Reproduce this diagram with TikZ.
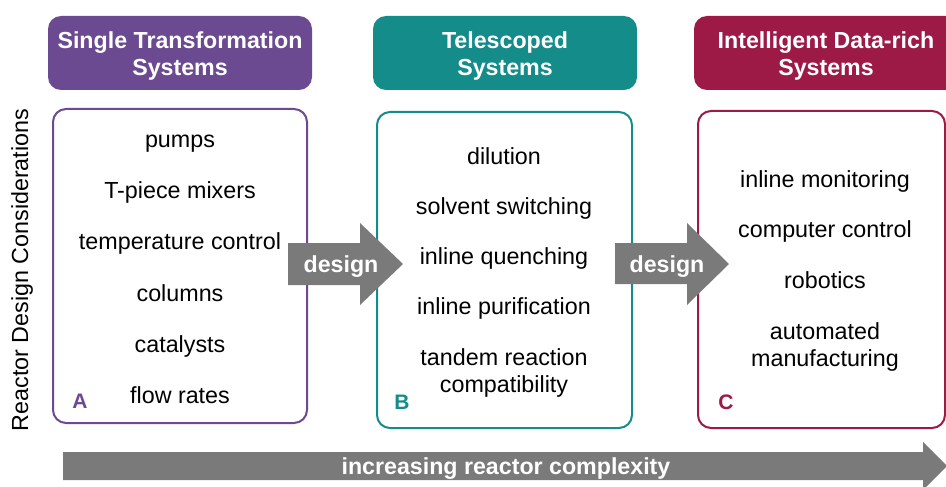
\documentclass[tikz,border=0pt]{standalone}
\usepackage{fontspec}
\setmainfont{Liberation Sans}
\definecolor{cpurple}{HTML}{6B4A91}
\definecolor{cteal}{HTML}{148C8A}
\definecolor{ccrim}{HTML}{9C1A45}
\definecolor{cgray}{HTML}{7A7A7A}
\begin{document}
\begin{tikzpicture}[x=1pt,y=-1pt,
  header/.style={fill=#1, rounded corners=13pt, text=white, align=center,
    font=\fontsize{23.2}{27}\selectfont\bfseries, inner sep=0pt,
    minimum width=264pt, minimum height=74pt},
  panel/.style={draw=#1, line width=2pt, rounded corners=13pt, inner sep=0pt},
  item/.style={font=\fontsize{23.3}{27}\selectfont, align=center, inner sep=0pt},
  single/.style={item, text height=16.5pt, text depth=4.8pt},
  letter/.style={text=#1, font=\fontsize{21}{25}\selectfont\bfseries, inner sep=0pt},
  blockarrow/.style={fill=cgray},
  arrowlabel/.style={text=white, font=\fontsize{23.2}{27}\selectfont\bfseries, inner sep=0pt}
]
\useasboundingbox (0,0) rectangle (946,487);
\clip (0,0) rectangle (946,487);

% headers
\node[header=cpurple] (hA) at (180,53) {};
\node[header=cteal]   (hB) at (505,53) {};
\node[header=ccrim]   (hC) at (826,53) {};
\node[text=white, align=center, font=\fontsize{23.2}{27}\selectfont\bfseries, inner sep=0pt] (tA) at (180,56) {Single Transformation\\Systems};
\node[text=white, align=center, font=\fontsize{23.2}{27}\selectfont\bfseries, inner sep=0pt] (tB) at (505,56) {Telescoped\\Systems};
\node[text=white, align=center, font=\fontsize{23.2}{27}\selectfont\bfseries, inner sep=0pt] (tC) at (826,56) {Intelligent Data-rich\\Systems};

% panels
\node[panel=cpurple, minimum width=254pt, minimum height=314pt] (bA) at (180,266) {};
\node[panel=cteal,   minimum width=255pt, minimum height=316pt] (bB) at (504.5,270) {};
\node[panel=ccrim,   minimum width=247pt, minimum height=317pt] (bC) at (821.5,269.5) {};

% panel A items
\node[single] (a1) at (180,142) {pumps};
\node[single] (a2) at (180,193) {T-piece mixers};
\node[single] (a3) at (180,244) {temperature control};
\node[single] (a4) at (180,296) {columns};
\node[single] (a5) at (180,347) {catalysts};
\node[single] (a6) at (180,398) {flow rates};
\node[letter=cpurple] (la) at (80,401) {A};

% panel B items
\node[single] (b1) at (504,159) {dilution};
\node[single] (b2) at (504,209) {solvent switching};
\node[single] (b3) at (504,259) {inline quenching};
\node[single] (b4) at (504,309) {inline purification};
\node[item]   (b5) at (504,372.5) {tandem reaction\\compatibility};
\node[letter=cteal] (lb) at (402,402) {B};

% panel C items
\node[single] (c1) at (825,182) {inline monitoring};
\node[single] (c2) at (825,232) {computer control};
\node[single] (c3) at (825,283) {robotics};
\node[item]   (c4) at (825,347) {automated\\manufacturing};
\node[letter=ccrim] (lc) at (726,402) {C};

% design arrows
\fill[blockarrow] (288,243) -- (360,243) -- (360,223) -- (403,264) -- (360,305) -- (360,285) -- (288,285) -- cycle;
\node[arrowlabel] (d1) at (341,267) {design};
\fill[blockarrow] (615,243) -- (687,243) -- (687,223) -- (729,264) -- (687,305) -- (687,284) -- (615,284) -- cycle;
\node[arrowlabel] (d2) at (667,267) {design};

% bottom arrow
\fill[blockarrow] (63,452) -- (923,452) -- (923,442) -- (947,466) -- (923,490) -- (923,480) -- (63,480) -- cycle;
\node[arrowlabel] (comp) at (506,469) {increasing reactor complexity};

% vertical label
\node[item, rotate=90] (ylab) at (22,270) {Reactor Design Considerations};
\end{tikzpicture}
\end{document}
